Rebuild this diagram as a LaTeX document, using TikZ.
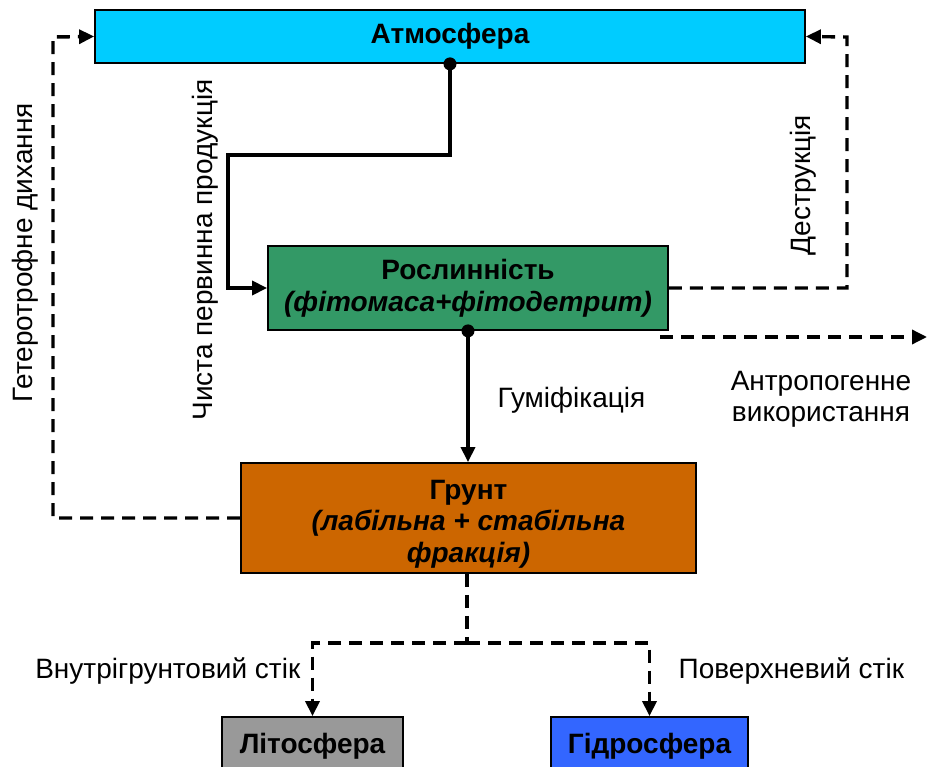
\documentclass[tikz,border=0pt]{standalone}
\usepackage{fontspec}
\setmainfont{Liberation Sans}
\usetikzlibrary{arrows.meta}
\definecolor{atmcol}{HTML}{00CCFF}
\definecolor{vegcol}{HTML}{339966}
\definecolor{soilcol}{HTML}{CC6600}
\definecolor{lithcol}{HTML}{999999}
\definecolor{hydrcol}{HTML}{3366FF}

\begin{document}
\begin{tikzpicture}[x=1pt,y=-1pt,line width=3.4pt,
  box/.style={draw=black,line width=1.8pt,inner sep=0pt,align=center,
    font=\fontsize{28}{32}\selectfont\bfseries},
  boxtext/.style={inner sep=0pt,align=center,font=\fontsize{28}{31.5}\selectfont\bfseries},
  lbl/.style={inner sep=0pt,align=center,font=\fontsize{28}{31}\selectfont},
  flow/.style={-{Triangle[length=15pt,width=14pt]}},
  dflow/.style={flow,dash pattern=on 13pt off 8pt},
  dline/.style={dash pattern=on 13pt off 8pt}]
\useasboundingbox (0,0) rectangle (927,767);
\node[box,fill=atmcol,minimum width=710pt,minimum height=53pt] (atm) at (450,36.5) {Атмосфера};
\node[box,fill=vegcol,minimum width=400pt,minimum height=84pt] (veg) at (468,288) {Рослинність\\\itshape(фітомаса+фітодетрит)};
\node[box,fill=soilcol,minimum width=455pt,minimum height=110pt] (soil) at (468.5,518) {};
\node[boxtext] (soiltext) at (468.5,524) {Грунт\\\itshape(лабільна + стабільна\\\itshape фракція)};
\node[box,fill=lithcol,minimum width=181pt,minimum height=58pt] (litho) at (312.5,746) {Літосфера};
\node[box,fill=hydrcol,minimum width=197pt,minimum height=58pt] (hydro) at (649.5,746) {Гідросфера};
\coordinate (npp) at (228,155);
\coordinate (hetero) at (53,37);
\coordinate (destr) at (847,37);
\coordinate (anthstart) at (660,337);
\coordinate (anthend) at (927,337);
\coordinate (split) at (467,643);
\draw[flow] (atm.south) |- (npp) |- (veg.west);
\fill (atm.south) circle (6.5);
\draw[flow] (veg.south) -- (soil.north -| veg.south);
\fill (veg.south) circle (6.5);
\draw[dflow] (soil.west) -| (hetero) -- (atm.west);
\draw[dflow] (veg.east) -| (destr) -- (atm.east);
\draw[dflow] (anthstart) -- (anthend);
\draw[dline] (soil.south -| split) -- (split);
\draw[dflow] (split) -| (litho.north);
\draw[dflow] (split) -| (hydro.north);
\node[lbl,rotate=90] (hetlbl) at (25,253) {Гетеротрофне дихання};
\node[lbl,rotate=90] (npplbl) at (205,250) {Чиста первинна продукція};
\node[lbl,rotate=90] (destrlbl) at (803,185) {Деструкція};
\node[lbl,anchor=west] (humlbl) at (496,400) {Гуміфікація};
\node[lbl] (anthlbl) at (821,399) {Антропогенне\\використання};
\node[lbl,anchor=east] (innerlbl) at (302,671) {Внутрігрунтовий стік};
\node[lbl,anchor=west] (surflbl) at (677,671) {Поверхневий стік};
\end{tikzpicture}
\end{document}
